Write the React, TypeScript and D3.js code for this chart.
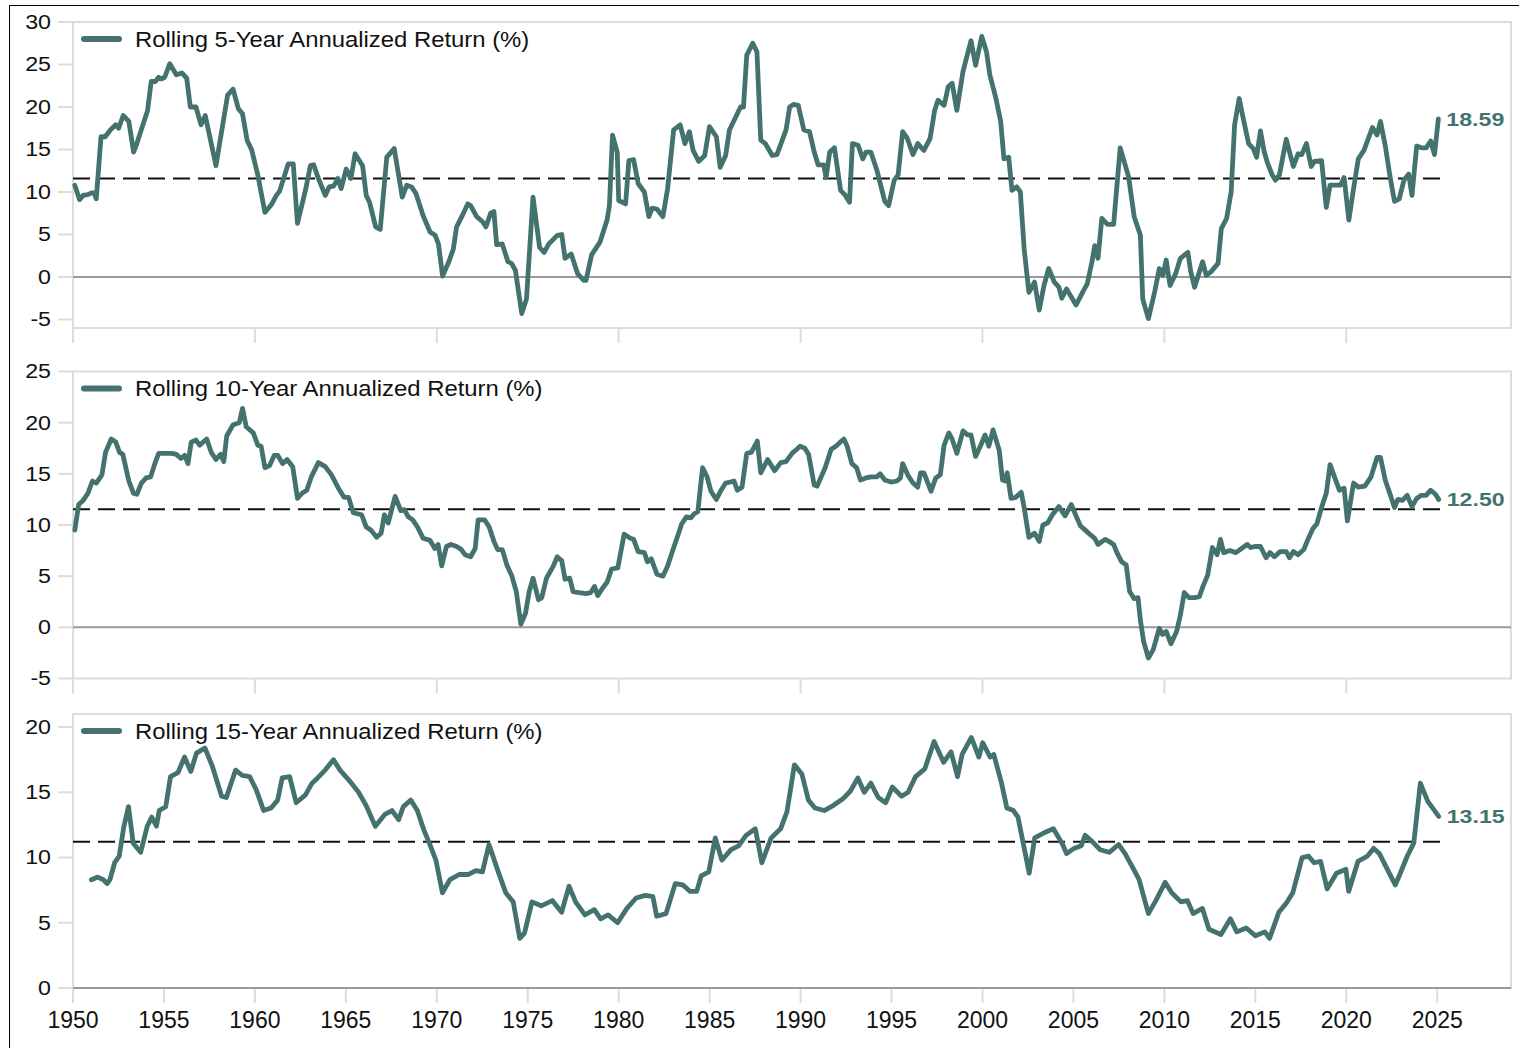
import React from 'react';
import * as d3 from 'd3';

// ---------- DATA ----------
const rolling5: [number, number][] = [
  [1950.10, 10.8], [1950.36, 9.1], [1950.56, 9.6], [1950.82, 9.7], [1951.02, 9.9], [1951.15, 9.9], [1951.28, 9.2],
  [1951.54, 16.5], [1951.77, 16.5], [1952.05, 17.3], [1952.35, 17.9], [1952.51, 17.5], [1952.76, 19.0], [1953.07, 18.3],
  [1953.33, 14.7], [1953.51, 15.7], [1954.10, 19.6], [1954.30, 23.0], [1954.53, 23.0], [1954.71, 23.5], [1954.86, 23.3],
  [1955.04, 23.5], [1955.32, 25.1], [1955.68, 23.8], [1955.99, 24.0], [1956.25, 23.4], [1956.45, 20.0], [1956.76, 20.0],
  [1957.04, 17.9], [1957.27, 19.0], [1957.86, 13.1], [1958.50, 21.4], [1958.80, 22.1], [1959.09, 19.8], [1959.32, 19.2],
  [1959.57, 16.1], [1959.83, 14.9], [1960.16, 12.0], [1960.55, 7.6], [1960.93, 8.6], [1961.18, 9.6], [1961.36, 10.1],
  [1961.83, 13.3], [1962.11, 13.3], [1962.34, 6.3], [1962.80, 10.4], [1963.05, 13.1], [1963.23, 13.2], [1963.49, 11.6],
  [1963.87, 9.6], [1964.08, 10.6], [1964.33, 10.7], [1964.56, 11.6], [1964.74, 10.4], [1965.02, 12.7], [1965.28, 11.6],
  [1965.51, 14.5], [1965.92, 13.1], [1966.12, 9.6], [1966.30, 8.8], [1966.64, 5.9], [1966.89, 5.6], [1967.25, 14.1],
  [1967.66, 15.1], [1968.10, 9.4], [1968.35, 10.8], [1968.61, 10.6], [1968.86, 9.8], [1969.25, 7.2], [1969.63, 5.3],
  [1969.91, 4.9], [1970.09, 3.9], [1970.32, 0.1], [1970.66, 1.8], [1970.91, 3.3], [1971.09, 5.9], [1971.42, 7.3],
  [1971.70, 8.6], [1971.86, 8.4], [1972.19, 7.1], [1972.52, 6.5], [1972.70, 5.9], [1972.96, 7.5], [1973.14, 7.7],
  [1973.29, 3.8], [1973.60, 3.9], [1973.91, 1.8], [1974.11, 1.6], [1974.32, 0.8], [1974.67, -4.3], [1974.93, -2.6],
  [1975.29, 9.4], [1975.65, 3.5], [1975.90, 2.9], [1976.16, 3.9], [1976.62, 4.9], [1976.87, 5.0], [1977.05, 2.2],
  [1977.39, 2.7], [1977.74, 0.4], [1978.08, -0.4], [1978.20, -0.4], [1978.51, 2.6], [1978.97, 4.1], [1979.36, 6.7],
  [1979.49, 8.4], [1979.66, 16.7], [1979.92, 14.7], [1980.00, 9.0], [1980.38, 8.6], [1980.56, 13.7], [1980.82, 13.8],
  [1981.07, 11.0], [1981.41, 10.0], [1981.66, 7.1], [1981.84, 8.1], [1982.10, 8.0], [1982.43, 7.1], [1982.69, 10.4],
  [1983.02, 17.3], [1983.38, 17.9], [1983.64, 15.7], [1983.89, 17.1], [1984.09, 14.9], [1984.40, 13.6], [1984.73, 14.3],
  [1984.99, 17.7], [1985.37, 16.5], [1985.58, 12.9], [1985.88, 14.3], [1986.09, 17.3], [1986.52, 19.2], [1986.70, 20.0],
  [1986.86, 20.0], [1987.04, 26.1], [1987.37, 27.5], [1987.60, 26.5], [1987.81, 16.1], [1988.06, 15.7], [1988.44, 14.3],
  [1988.70, 14.4], [1989.20, 17.3], [1989.40, 20.0], [1989.61, 20.3], [1989.87, 20.2], [1990.18, 17.3], [1990.49, 17.1],
  [1990.75, 14.7], [1990.96, 13.2], [1991.27, 13.2], [1991.40, 11.7], [1991.60, 14.7], [1991.86, 15.2], [1992.20, 10.2],
  [1992.46, 9.6], [1992.69, 8.8], [1992.85, 15.7], [1993.16, 15.5], [1993.42, 13.9], [1993.60, 14.7], [1993.86, 14.7],
  [1994.19, 12.6], [1994.45, 10.4], [1994.63, 8.9], [1994.84, 8.4], [1995.15, 11.4], [1995.36, 12.0], [1995.61, 17.1],
  [1995.87, 16.3], [1996.18, 14.4], [1996.44, 15.7], [1996.78, 14.9], [1997.12, 16.3], [1997.37, 19.6], [1997.55, 20.8],
  [1997.89, 20.2], [1998.12, 22.4], [1998.33, 22.8], [1998.59, 19.6], [1998.93, 24.2], [1999.37, 27.8], [1999.62, 24.9],
  [1999.96, 28.3], [2000.22, 26.5], [2000.40, 23.8], [2000.74, 21.0], [2001.00, 18.3], [2001.18, 13.9], [2001.44, 14.1],
  [2001.62, 10.2], [2001.88, 10.6], [2002.08, 10.0], [2002.29, 3.3], [2002.55, -1.8], [2002.86, -0.6], [2003.12, -3.9],
  [2003.38, -1.0], [2003.64, 1.0], [2003.95, -0.6], [2004.20, -1.2], [2004.36, -2.5], [2004.62, -1.4], [2005.14, -3.3],
  [2005.50, -1.8], [2005.76, -0.8], [2006.02, 1.8], [2006.17, 3.7], [2006.35, 2.2], [2006.56, 6.9], [2006.87, 6.2],
  [2007.21, 6.2], [2007.57, 15.2], [2008.03, 11.8], [2008.34, 7.1], [2008.68, 4.9], [2008.81, -2.6], [2009.12, -4.9],
  [2009.46, -1.8], [2009.72, 1.0], [2009.92, 0.2], [2010.10, 2.0], [2010.31, -1.0], [2010.62, 0.4], [2010.88, 2.2],
  [2011.29, 2.9], [2011.45, 0.6], [2011.66, -1.2], [2012.10, 1.8], [2012.30, 0.2], [2012.56, 0.6], [2012.95, 1.6],
  [2013.13, 5.7], [2013.42, 6.9], [2013.67, 10.0], [2013.86, 17.9], [2014.11, 21.0], [2014.37, 18.3], [2014.63, 15.7],
  [2014.89, 15.1], [2015.07, 14.1], [2015.28, 17.2], [2015.49, 14.7], [2015.67, 13.4], [2015.93, 12.0], [2016.11, 11.4],
  [2016.32, 12.0], [2016.70, 16.2], [2016.88, 14.7], [2017.09, 13.0], [2017.35, 14.5], [2017.55, 14.4], [2017.81, 15.7],
  [2018.07, 13.0], [2018.25, 13.6], [2018.64, 13.7], [2018.90, 8.2], [2019.11, 10.8], [2019.68, 10.8], [2019.88, 11.7],
  [2020.14, 6.7], [2020.40, 10.4], [2020.66, 13.9], [2020.97, 14.9], [2021.44, 17.6], [2021.69, 16.7], [2021.88, 18.3],
  [2022.14, 15.5], [2022.39, 12.0], [2022.65, 8.9], [2022.91, 9.2], [2023.17, 11.4], [2023.43, 12.1], [2023.61, 9.6],
  [2023.87, 15.4], [2024.13, 15.2], [2024.39, 15.2], [2024.64, 16.0], [2024.85, 14.4], [2025.06, 18.59],
];

const rolling10: [number, number][] = [
  [1950.10, 9.5], [1950.31, 12.0], [1950.56, 12.4], [1950.82, 13.1], [1951.07, 14.3], [1951.28, 14.1], [1951.59, 14.9],
  [1951.79, 17.1], [1952.10, 18.4], [1952.35, 18.1], [1952.56, 17.1], [1952.74, 16.9], [1953.07, 14.3], [1953.33, 13.1],
  [1953.51, 13.0], [1953.76, 14.1], [1954.02, 14.6], [1954.27, 14.7], [1954.48, 15.9], [1954.71, 17.0], [1955.04, 17.0],
  [1955.43, 17.0], [1955.68, 16.9], [1955.94, 16.5], [1956.14, 16.8], [1956.32, 16.0], [1956.50, 18.1], [1956.76, 18.3],
  [1956.96, 17.8], [1957.35, 18.4], [1957.60, 17.1], [1957.86, 16.4], [1958.11, 16.9], [1958.29, 16.2], [1958.45, 18.7],
  [1958.80, 19.8], [1959.14, 20.0], [1959.32, 21.4], [1959.52, 19.6], [1959.91, 19.0], [1960.16, 17.8], [1960.34, 17.7],
  [1960.55, 15.6], [1960.80, 15.8], [1961.06, 16.8], [1961.26, 16.8], [1961.52, 16.0], [1961.77, 16.4], [1962.08, 15.7],
  [1962.34, 12.6], [1962.59, 13.1], [1962.85, 13.4], [1963.10, 14.7], [1963.49, 16.1], [1963.87, 15.7], [1964.21, 14.9],
  [1964.59, 13.6], [1964.90, 12.7], [1965.15, 12.7], [1965.41, 11.2], [1965.87, 11.0], [1966.12, 9.8], [1966.38, 9.5],
  [1966.69, 8.8], [1966.94, 9.2], [1967.12, 11.0], [1967.33, 10.2], [1967.71, 12.8], [1968.02, 11.4], [1968.22, 11.5],
  [1968.43, 10.8], [1968.68, 10.5], [1968.94, 9.8], [1969.25, 8.7], [1969.63, 8.5], [1969.89, 7.7], [1970.07, 8.1],
  [1970.27, 6.0], [1970.53, 7.9], [1970.78, 8.1], [1971.09, 7.9], [1971.35, 7.6], [1971.55, 7.1], [1971.86, 6.9],
  [1972.11, 7.7], [1972.27, 10.5], [1972.63, 10.5], [1972.88, 9.8], [1973.14, 8.4], [1973.34, 7.6], [1973.60, 7.6],
  [1973.85, 6.1], [1974.11, 5.1], [1974.37, 3.5], [1974.62, 0.3], [1974.88, 1.4], [1975.08, 3.5], [1975.29, 4.8],
  [1975.59, 2.7], [1975.77, 2.9], [1976.03, 4.8], [1976.41, 6.0], [1976.62, 6.9], [1976.87, 6.5], [1977.05, 4.7],
  [1977.31, 4.8], [1977.49, 3.5], [1977.82, 3.4], [1978.21, 3.3], [1978.46, 3.4], [1978.67, 4.0], [1978.85, 3.1],
  [1979.10, 3.8], [1979.36, 4.4], [1979.61, 5.7], [1979.95, 5.8], [1980.30, 9.1], [1980.64, 8.7], [1980.82, 8.6],
  [1981.07, 7.4], [1981.41, 7.3], [1981.58, 6.4], [1981.79, 6.7], [1982.10, 5.2], [1982.43, 5.0], [1982.69, 6.0],
  [1982.95, 7.4], [1983.20, 8.7], [1983.46, 10.1], [1983.72, 10.8], [1983.97, 10.7], [1984.15, 11.1], [1984.35, 11.3],
  [1984.61, 15.6], [1984.86, 14.7], [1985.07, 13.3], [1985.37, 12.5], [1985.63, 13.4], [1985.88, 14.1], [1986.14, 14.2],
  [1986.34, 14.3], [1986.52, 13.4], [1986.78, 13.7], [1987.04, 17.0], [1987.29, 17.1], [1987.62, 18.2], [1987.81, 15.1],
  [1988.19, 16.4], [1988.57, 15.3], [1988.91, 16.1], [1989.20, 16.2], [1989.53, 17.0], [1989.79, 17.4], [1989.97, 17.7],
  [1990.23, 17.5], [1990.44, 16.9], [1990.75, 13.9], [1990.91, 13.8], [1991.35, 15.6], [1991.68, 17.4], [1991.94, 17.7],
  [1992.25, 18.2], [1992.38, 18.4], [1992.56, 17.7], [1992.82, 16.0], [1993.08, 15.6], [1993.29, 14.4], [1993.60, 14.6],
  [1993.86, 14.7], [1994.19, 14.7], [1994.37, 15.0], [1994.63, 14.4], [1994.97, 14.2], [1995.30, 14.3], [1995.49, 14.6],
  [1995.61, 16.0], [1995.92, 14.8], [1996.18, 14.1], [1996.44, 13.7], [1996.60, 15.1], [1996.78, 15.1], [1997.17, 13.3],
  [1997.43, 14.6], [1997.68, 14.9], [1997.89, 17.8], [1998.15, 19.0], [1998.33, 18.4], [1998.59, 17.0], [1998.93, 19.2],
  [1999.18, 18.8], [1999.37, 18.8], [1999.62, 16.7], [1999.88, 17.7], [2000.14, 18.8], [2000.35, 17.7], [2000.58, 19.3],
  [2000.92, 17.3], [2001.10, 14.4], [2001.25, 14.3], [2001.36, 15.1], [2001.57, 12.6], [2001.82, 12.7], [2002.13, 13.2],
  [2002.29, 11.7], [2002.55, 8.8], [2002.86, 9.2], [2003.12, 8.4], [2003.32, 10.0], [2003.58, 10.2], [2003.84, 11.0],
  [2004.20, 11.8], [2004.54, 10.9], [2004.88, 12.0], [2005.19, 10.7], [2005.39, 9.9], [2005.65, 9.5], [2005.96, 9.0],
  [2006.17, 8.7], [2006.35, 8.1], [2006.74, 8.6], [2006.95, 8.4], [2007.21, 8.1], [2007.39, 7.3], [2007.65, 6.4],
  [2007.90, 6.1], [2008.09, 3.5], [2008.34, 2.8], [2008.55, 2.9], [2008.68, 0.7], [2008.86, -1.4], [2009.12, -3.0],
  [2009.38, -2.2], [2009.72, -0.1], [2009.90, -0.7], [2010.10, -0.4], [2010.36, -1.6], [2010.67, -0.4], [2010.88, 1.2],
  [2011.09, 3.4], [2011.35, 2.9], [2011.66, 2.9], [2011.92, 3.0], [2012.12, 4.0], [2012.38, 5.1], [2012.64, 7.8],
  [2012.90, 7.1], [2013.08, 8.6], [2013.26, 7.3], [2013.60, 7.5], [2013.93, 7.3], [2014.24, 7.7], [2014.55, 8.1],
  [2014.76, 7.8], [2014.97, 7.9], [2015.28, 7.9], [2015.59, 6.8], [2015.80, 7.3], [2016.05, 6.9], [2016.36, 7.4],
  [2016.70, 7.4], [2016.88, 6.8], [2017.09, 7.4], [2017.35, 7.1], [2017.66, 7.6], [2017.92, 8.7], [2018.18, 9.7],
  [2018.38, 10.1], [2018.64, 11.7], [2018.90, 13.1], [2019.11, 15.9], [2019.37, 14.6], [2019.62, 13.4], [2019.88, 13.6],
  [2020.06, 10.4], [2020.40, 14.1], [2020.66, 13.7], [2021.02, 13.8], [2021.36, 14.7], [2021.69, 16.6], [2021.88, 16.6],
  [2022.14, 14.4], [2022.39, 13.1], [2022.65, 11.7], [2022.83, 12.5], [2023.09, 12.4], [2023.35, 12.9], [2023.61, 11.8],
  [2023.87, 12.6], [2024.13, 12.9], [2024.39, 12.9], [2024.64, 13.4], [2024.90, 13.0], [2025.08, 12.5],
];

const rolling15: [number, number][] = [
  [1951.01, 8.3], [1951.36, 8.5], [1951.67, 8.3], [1951.88, 8.0], [1952.03, 8.3], [1952.29, 9.6], [1952.54, 10.1],
  [1952.80, 12.4], [1953.05, 13.9], [1953.31, 11.1], [1953.72, 10.4], [1954.08, 12.4], [1954.33, 13.1], [1954.59, 12.4],
  [1954.74, 13.6], [1955.10, 13.9], [1955.36, 16.2], [1955.77, 16.5], [1956.13, 17.7], [1956.48, 16.6], [1956.79, 18.0],
  [1957.25, 18.4], [1957.66, 17.0], [1958.17, 14.7], [1958.43, 14.6], [1958.94, 16.7], [1959.30, 16.3], [1959.71, 16.2],
  [1960.07, 15.2], [1960.48, 13.6], [1960.89, 13.8], [1961.25, 14.4], [1961.50, 16.1], [1961.91, 16.2], [1962.27, 14.2],
  [1962.78, 14.8], [1963.14, 15.7], [1963.45, 16.1], [1963.86, 16.7], [1964.32, 17.5], [1964.68, 16.7], [1965.19, 15.9],
  [1965.70, 15.0], [1966.11, 14.0], [1966.62, 12.4], [1967.14, 13.3], [1967.54, 13.6], [1967.90, 12.9], [1968.16, 13.9],
  [1968.57, 14.4], [1968.93, 13.6], [1969.29, 12.1], [1969.59, 11.1], [1969.95, 9.8], [1970.31, 7.3], [1970.72, 8.3],
  [1971.23, 8.7], [1971.74, 8.7], [1972.15, 9.0], [1972.51, 8.9], [1972.87, 11.0], [1973.38, 8.9], [1973.79, 7.3],
  [1974.20, 6.6], [1974.56, 3.8], [1974.82, 4.2], [1975.23, 6.6], [1975.74, 6.3], [1976.35, 6.7], [1976.86, 5.8],
  [1977.27, 7.8], [1977.63, 6.6], [1978.14, 5.6], [1978.66, 6.0], [1979.01, 5.3], [1979.42, 5.6], [1979.94, 5.0],
  [1980.45, 6.1], [1980.96, 6.9], [1981.47, 7.1], [1981.88, 7.0], [1982.09, 5.5], [1982.60, 5.7], [1983.11, 8.0],
  [1983.52, 7.9], [1983.93, 7.4], [1984.29, 7.4], [1984.54, 8.6], [1984.95, 8.9], [1985.31, 11.5], [1985.67, 9.8],
  [1986.18, 10.6], [1986.59, 10.9], [1987.00, 11.7], [1987.51, 12.2], [1987.87, 9.6], [1988.38, 11.5], [1988.90, 12.2],
  [1989.25, 13.5], [1989.66, 17.1], [1990.07, 16.4], [1990.43, 14.4], [1990.79, 13.8], [1991.30, 13.6], [1991.81, 14.0],
  [1992.33, 14.5], [1992.74, 15.1], [1993.15, 16.1], [1993.50, 15.0], [1993.86, 15.7], [1994.27, 14.6], [1994.68, 14.2],
  [1995.04, 15.4], [1995.55, 14.7], [1995.91, 15.0], [1996.32, 16.2], [1996.83, 16.8], [1997.34, 18.9], [1997.86, 17.3],
  [1998.27, 18.1], [1998.63, 16.2], [1998.88, 17.9], [1999.39, 19.2], [1999.80, 17.7], [2000.01, 18.8], [2000.42, 17.7],
  [2000.62, 17.9], [2001.03, 15.8], [2001.34, 13.8], [2001.70, 13.6], [2001.95, 13.1], [2002.57, 8.8], [2002.87, 11.5],
  [2003.39, 11.9], [2003.90, 12.2], [2004.41, 11.0], [2004.62, 10.3], [2005.03, 10.7], [2005.43, 10.9], [2005.64, 11.7],
  [2006.05, 11.2], [2006.46, 10.6], [2006.97, 10.4], [2007.48, 11.0], [2007.84, 10.3], [2008.35, 9.0], [2008.61, 8.3],
  [2009.12, 5.7], [2009.53, 6.7], [2010.04, 8.1], [2010.40, 7.3], [2010.91, 6.6], [2011.27, 6.7], [2011.58, 5.7],
  [2012.09, 6.1], [2012.45, 4.5], [2013.11, 4.1], [2013.63, 5.3], [2013.98, 4.3], [2014.50, 4.6], [2015.01, 4.0],
  [2015.52, 4.3], [2015.78, 3.8], [2016.29, 5.8], [2016.70, 6.5], [2017.06, 7.3], [2017.57, 10.0], [2017.93, 10.1],
  [2018.23, 9.6], [2018.59, 9.7], [2018.95, 7.6], [2019.46, 8.8], [2019.98, 9.1], [2020.13, 7.4], [2020.64, 9.7],
  [2021.15, 10.1], [2021.51, 10.7], [2021.82, 10.3], [2022.18, 9.3], [2022.69, 7.9], [2022.94, 8.7], [2023.35, 10.1],
  [2023.71, 11.1], [2024.07, 15.7], [2024.48, 14.3], [2024.74, 13.8], [2025.08, 13.15],
];

const average5 = 11.6;
const average10 = 11.55;
const average15 = 11.2;

const legend5 = 'Rolling 5-Year Annualized Return (%)';
const legend10 = 'Rolling 10-Year Annualized Return (%)';
const legend15 = 'Rolling 15-Year Annualized Return (%)';

const yTicks5 = [-5, 0, 5, 10, 15, 20, 25, 30];
const yTicks10 = [-5, 0, 5, 10, 15, 20, 25];
const yTicks15 = [0, 5, 10, 15, 20];
const xTicksDecade = [1950, 1960, 1970, 1980, 1990, 2000, 2010, 2020];
const xTickLabels = [1950, 1955, 1960, 1965, 1970, 1975, 1980, 1985, 1990, 1995, 2000, 2005, 2010, 2015, 2020, 2025];

// ---------- STYLE ----------
const W = 1519;
const H = 1048;
const LEFT = 73;
const RIGHT = 1511;
const LINE = '#44736f';
const FRAME = '#dcdcdc';
const SANS = "'Liberation Sans', Arial, Helvetica, sans-serif";

const x = d3.scaleLinear().domain([1950, 2029]).range([LEFT, RIGHT - 1]);

type PanelDef = {
  data: [number, number][];
  avg: number;
  legend: string;
  domain: [number, number];
  top: number;
  bottom: number;
  yTicks: number[];
  xTicks: number[];
  xLabels: boolean;
};

const panels: PanelDef[] = [
  { data: rolling5, avg: average5, legend: legend5, domain: [-6, 30], top: 22, bottom: 328, yTicks: yTicks5, xTicks: xTicksDecade, xLabels: false },
  { data: rolling10, avg: average10, legend: legend10, domain: [-5, 25], top: 371.5, bottom: 678.5, yTicks: yTicks10, xTicks: xTicksDecade, xLabels: false },
  { data: rolling15, avg: average15, legend: legend15, domain: [0, 21], top: 714, bottom: 988, yTicks: yTicks15, xTicks: xTickLabels, xLabels: true },
];

function Panel({ p }: { p: PanelDef }) {
  const y = d3.scaleLinear().domain(p.domain).range([p.bottom, p.top]);
  const line = d3
    .line<[number, number]>()
    .x((d) => x(d[0]))
    .y((d) => y(d[1]))
    .curve(d3.curveLinear);
  const last = p.data[p.data.length - 1];
  const first = 1950;
  return (
    <g>
      <rect x={LEFT} y={p.top} width={RIGHT - LEFT} height={p.bottom - p.top} fill="none" stroke={FRAME} strokeWidth={2} />
      {p.yTicks.map((t) => (
        <g key={'y' + t}>
          <line x1={58} x2={LEFT} y1={y(t)} y2={y(t)} stroke={FRAME} strokeWidth={2} />
          <g transform={`translate(51,${y(t)}) scale(1.16,1)`}>
            <text x={0} y={0} textAnchor="end" dominantBaseline="central" fontFamily={SANS} fontSize={20} fill="#111">
              {t}
            </text>
          </g>
        </g>
      ))}
      {p.xTicks.map((t) => (
        <g key={'x' + t}>
          <line x1={x(t)} x2={x(t)} y1={p.bottom} y2={p.bottom + 15} stroke={FRAME} strokeWidth={2} />
          {p.xLabels && (
            <text x={x(t)} y={p.bottom + 32} textAnchor="middle" dominantBaseline="central" fontFamily={SANS} fontSize={23} fill="#111">
              {t}
            </text>
          )}
        </g>
      ))}
      <line x1={LEFT} x2={RIGHT} y1={y(0)} y2={y(0)} stroke="#9a9a9a" strokeWidth={2} />
      <line x1={x(first)} x2={x(last[0]) + 2} y1={y(p.avg)} y2={y(p.avg)} stroke="#111" strokeWidth={2} strokeDasharray="17,8" />
      <path d={line(p.data) || ''} fill="none" stroke={LINE} strokeWidth={4.8} strokeLinejoin="round" strokeLinecap="round" />
      <line x1={84} x2={119} y1={p.top + 17} y2={p.top + 17} stroke={LINE} strokeWidth={6} strokeLinecap="round" />
      <g transform={`translate(135,${p.top + 17}) scale(1.085,1)`}>
        <text x={0} y={0} dominantBaseline="central" fontFamily={SANS} fontSize={22} fill="#111">
          {p.legend}
        </text>
      </g>
      <g transform={`translate(${x(last[0]) + 8},${y(last[1])}) scale(1.22,1)`}>
        <text x={0} y={0} dominantBaseline="central" fontFamily={SANS} fontWeight="bold" fontSize={19} fill={LINE}>
          {last[1].toFixed(2)}
        </text>
      </g>
    </g>
  );
}

export default function App() {
  return (
    <div style={{ position: 'absolute', left: 0, top: 0, width: W, height: H, overflow: 'hidden', background: '#fff' }}>
      <svg width={W} height={H} viewBox={`0 0 ${W} ${H}`} style={{ display: 'block' }}>
        <rect x={0} y={0} width={W} height={H} fill="#fff" />
        <rect x={9.5} y={5.5} width={W + 20} height={H + 20} fill="none" stroke="#000" strokeWidth={1} />
        {panels.map((p, i) => (
          <Panel key={i} p={p} />
        ))}
      </svg>
    </div>
  );
}
